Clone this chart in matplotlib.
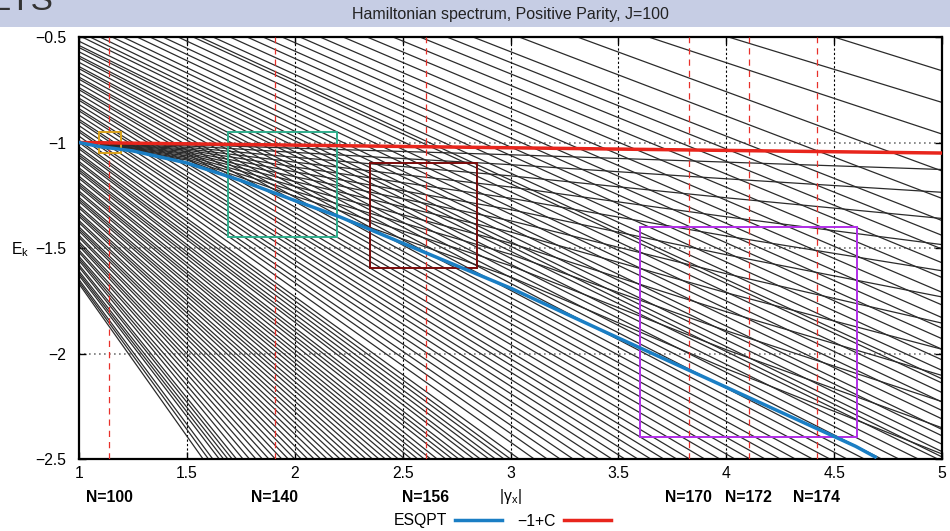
import matplotlib.pyplot as plt
from matplotlib.patches import Rectangle
from matplotlib.lines import Line2D

plt.rcParams['font.family'] = ['Liberation Sans', 'DejaVu Sans']

# ---- levels entering through the left edge above -1 (E at gamma=1), leaving at the bottom (gamma at E=-2.5)
upper_left_energy = [-0.52, -0.54, -0.55, -0.57, -0.59, -0.60, -0.62, -0.64, -0.65, -0.67,
                     -0.69, -0.70, -0.72, -0.74, -0.75, -0.77, -0.79, -0.80, -0.82, -0.84,
                     -0.85, -0.87, -0.89, -0.90, -0.92, -0.94, -0.95, -0.97]
upper_bottom_gamma = [4.98, 4.89, 4.80, 4.72, 4.64, 4.56, 4.48, 4.40, 4.32, 4.25,
                      4.18, 4.11, 4.04, 3.97, 3.90, 3.83, 3.77, 3.71, 3.65, 3.59,
                      3.53, 3.47, 3.41, 3.35, 3.29, 3.23, 3.17, 3.11]

# ---- levels entering through the left edge below -1, leaving at the bottom
lower_left_energy = [-0.99, -1.00, -1.02, -1.03, -1.05, -1.06, -1.07, -1.09, -1.10, -1.12,
                     -1.13, -1.14, -1.16, -1.17, -1.19, -1.20, -1.21, -1.23, -1.24, -1.26,
                     -1.27, -1.28, -1.30, -1.31, -1.33, -1.34, -1.35, -1.37, -1.38, -1.40,
                     -1.41, -1.42, -1.44, -1.45, -1.47, -1.48, -1.49, -1.51, -1.52, -1.54,
                     -1.55, -1.56, -1.58, -1.59, -1.61, -1.62, -1.63, -1.65, -1.66, -1.67]
lower_bottom_gamma = [3.04, 3.00, 2.97, 2.93, 2.90, 2.86, 2.83, 2.79, 2.76, 2.73,
                      2.70, 2.66, 2.63, 2.60, 2.57, 2.54, 2.51, 2.48, 2.45, 2.42,
                      2.39, 2.36, 2.33, 2.30, 2.27, 2.24, 2.21, 2.18, 2.15, 2.12,
                      2.09, 2.06, 2.03, 2.00, 1.97, 1.94, 1.91, 1.88, 1.85, 1.82,
                      1.79, 1.76, 1.73, 1.71, 1.69, 1.67, 1.65, 1.62, 1.60, 1.575]

# ---- levels entering through the top edge (gamma at E=-0.5), leaving through the right edge (E at gamma=5)
top_gamma = [1.014, 1.051, 1.097, 1.153, 1.204, 1.269, 1.329, 1.389, 1.459, 1.529,
             1.561, 1.621, 1.700, 1.779, 1.853, 1.941, 2.024, 2.117, 2.224, 2.335,
             2.455, 2.580, 2.705, 2.826, 3.04, 3.31, 3.64, 4.01, 4.50]
right_energy = [-2.49, -2.465, -2.43, -2.39, -2.36, -2.31, -2.27, -2.23, -2.185, -2.14,
                -2.12, -2.08, -2.03, -1.98, -1.93, -1.88, -1.83, -1.77, -1.71, -1.64,
                -1.57, -1.505, -1.44, -1.37, -1.265, -1.135, -0.96, -0.81, -0.66]

# ---- levels trapped between the ESQPT and the -1+C line, read at gamma = 1, 1.5, 2, 3, 4, 5
flat_gamma = [1.0, 1.5, 2.0, 3.0, 4.0, 5.0]
flat_e1 = [-1.0] * 12
flat_e15 = [-1.010, -1.016, -1.023, -1.030, -1.036, -1.043, -1.050, -1.056, -1.063, -1.070, -1.077, -1.083]
flat_e2 = [-1.027, -1.047, -1.070, -1.093, -1.116, -1.139, -1.162, -1.185, -1.208, -1.231, -1.254, -1.277]
flat_e3 = [-1.058, -1.105, -1.158, -1.211, -1.264, -1.318, -1.371, -1.424, -1.477, -1.530, -1.584, -1.637]
flat_e4 = [-1.093, -1.172, -1.262, -1.352, -1.443, -1.532, -1.622, -1.712, -1.802, -1.892, -1.982, -2.072]
flat_e5 = [-1.128, -1.236, -1.360, -1.484, -1.608, -1.732, -1.856, -1.980, -2.104, -2.228, -2.352, -2.476]

# ---- ESQPT curve and the -1+C line
esqpt_gamma = [1.0, 1.1, 1.25, 1.5, 1.75, 2.0, 2.21, 2.5, 3.0, 3.42, 4.0, 4.6, 4.69]
esqpt_energy = [-1.0, -1.02, -1.04, -1.097, -1.18, -1.275, -1.353, -1.477, -1.69, -1.889, -2.16, -2.44, -2.49]
crit_gamma = [1.0, 5.0]
crit_energy = [-1.0, -1.05]

# ---- truncation markers
n_gamma = [1.139, 1.908, 2.608, 3.827, 4.105, 4.42]
n_labels = ['N=100', 'N=140', 'N=156', 'N=170', 'N=172', 'N=174']

# ---- zoom boxes (gamma0, gamma1, E0, E1)
box_g0 = [1.093, 1.69, 2.349, 3.60]
box_g1 = [1.195, 2.196, 2.845, 4.606]
box_e0 = [-1.05, -1.448, -1.595, -2.396]
box_e1 = [-0.95, -0.95, -1.097, -1.40]
box_colors = ['#d9a21b', '#2fae8c', '#7a0a0a', '#b22ee8']

fs = 11.3
fig = plt.figure(figsize=(9.5, 5.31), dpi=100)
ax = fig.add_axes([79 / 950, 1 - 459 / 531, 863 / 950, 422 / 531])

# header band
fig.patches.append(Rectangle((0, 1 - 27 / 531), 1, 27 / 531, transform=fig.transFigure,
                             facecolor='#c6cde4', edgecolor='none', zorder=0))
fig.text(510 / 950, 1 - 14 / 531, 'Hamiltonian spectrum, Positive Parity, J=100',
         ha='center', va='center', fontsize=11.5, color='#222222')
fig.text(-12 / 950, 1 - 10 / 531, 'ETS', ha='left', va='baseline', fontsize=24, color='#333333')

lw = 0.9
lc = '#2b2b2b'
for e, g in zip(upper_left_energy + lower_left_energy, upper_bottom_gamma + lower_bottom_gamma):
    ax.plot([1.0, g], [e, -2.5], color=lc, lw=lw, zorder=2)
for g, e in zip(top_gamma, right_energy):
    ax.plot([g, 5.0], [-0.5, e], color=lc, lw=lw, zorder=2)
for level in zip(flat_e1, flat_e15, flat_e2, flat_e3, flat_e4, flat_e5):
    ax.plot(flat_gamma, level, color=lc, lw=lw, zorder=2)

# grid
for g in [1.5, 2, 2.5, 3, 3.5, 4, 4.5]:
    ax.axvline(g, color='black', lw=0.8, ls=(0, (2, 2)), zorder=1)
for e in [-1.0, -1.5, -2.0]:
    ax.axhline(e, color='#777777', lw=1.2, ls=(0, (1, 2)), zorder=1)

for g in n_gamma:
    ax.axvline(g, color='#e8302a', lw=0.9, ls=(0, (5, 4)), zorder=3)

for g0, g1, e0, e1, c in zip(box_g0, box_g1, box_e0, box_e1, box_colors):
    ax.add_patch(Rectangle((g0, e0), g1 - g0, e1 - e0, fill=False, edgecolor=c, lw=1.4, zorder=4))

ax.plot(crit_gamma, crit_energy, color='#e8251c', lw=2.5, zorder=5)
ax.plot(esqpt_gamma, esqpt_energy, color='#1a7ec4', lw=2.5, zorder=5)

ax.set_xlim(1, 5)
ax.set_ylim(-2.5, -0.5)
ax.set_xticks([1, 1.5, 2, 2.5, 3, 3.5, 4, 4.5, 5])
ax.set_xticklabels(['1', '1.5', '2', '2.5', '3', '3.5', '4', '4.5', '5'])
ax.set_yticks([-2.5, -2, -1.5, -1, -0.5])
ax.set_yticklabels(['\u22122.5', '\u22122', '\u22121.5', '\u22121', '\u22120.5'])
ax.tick_params(direction='in', length=5, width=1, labelsize=fs, top=True, right=True)
ax.tick_params(axis='y', pad=9)
ax.tick_params(axis='x', pad=5)
for s in ax.spines.values():
    s.set_linewidth(1.6)

fig.text(510 / 950, 1 - 497 / 531, '|\u03b3$_{\\mathregular{x}}$|', ha='center', va='center', fontsize=fs)
fig.text(20 / 950, 1 - 250 / 531, 'E$_{\\mathregular{k}}$', ha='center', va='center', fontsize=fs)

for g, t in zip(n_gamma, n_labels):
    fig.text((79 + (g - 1) * 215.75) / 950, 1 - 498 / 531, t, ha='center', va='center',
             fontsize=fs, fontweight='bold')

handles = [Line2D([], [], color='#1a7ec4', lw=2.5), Line2D([], [], color='#e8251c', lw=2.5)]
fig.legend(handles, ['ESQPT', '\u22121+C'], loc='center', bbox_to_anchor=(502 / 950, 1 - 521 / 531),
           ncol=2, frameon=False, markerfirst=False, handlelength=3.0, columnspacing=1.0,
           fontsize=fs, handletextpad=0.5)

fig.savefig('out.png', dpi=100)
